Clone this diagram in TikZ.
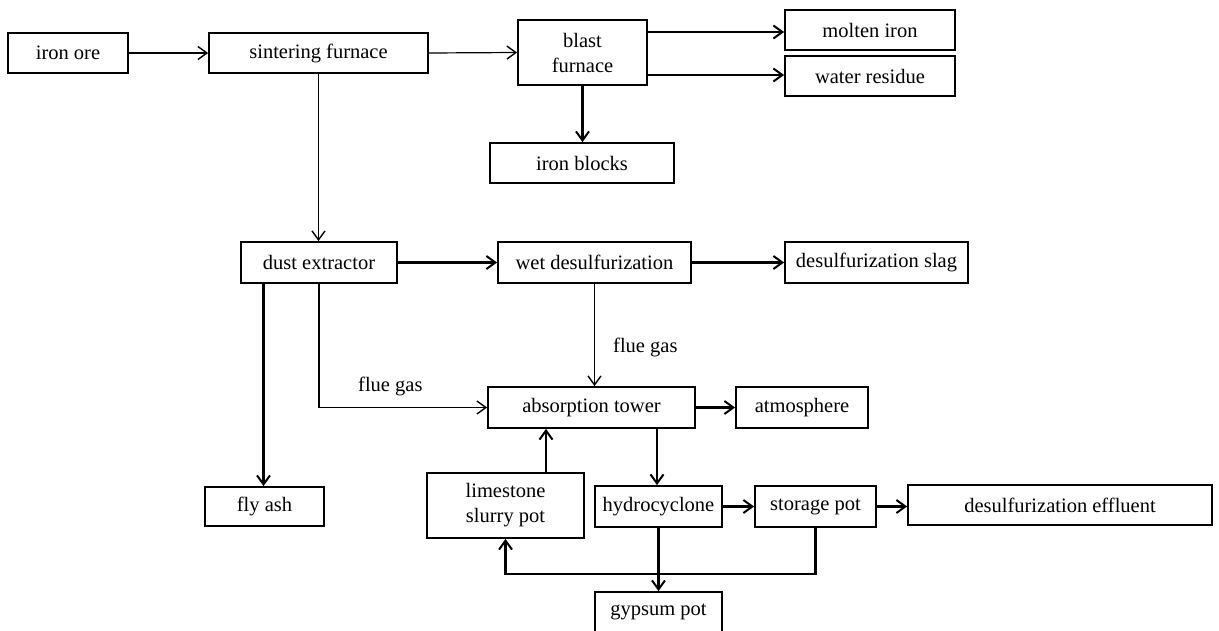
\documentclass[tikz,border=0pt]{standalone}
\usepackage{fontspec}
\setmainfont{Liberation Serif}
\usetikzlibrary{arrows.meta}
\begin{document}
\begin{tikzpicture}[x=1pt,y=-1pt,
  box/.style={draw, line width=1.8pt, inner sep=0pt, align=center,
    font=\fontsize{20.5}{25}\selectfont},
  thinarr/.style={line width=1.2pt, -{Straight Barb[length=9pt,width=13pt,line width=1.4pt]}},
  thickarr/.style={line width=2.4pt, -{Straight Barb[length=9pt,width=13pt,line width=2pt]}},
  thinline/.style={line width=1.2pt},
  thickline/.style={line width=2.4pt},
  lbl/.style={font=\fontsize{20.5}{25}\selectfont, inner sep=0pt}
]
\useasboundingbox (0,0) rectangle (1219,630);
% nodes
\node[box, minimum width=120pt, minimum height=40pt] (ore) at (68,53) {iron ore};
\node[box, minimum width=219pt, minimum height=40pt] (sinter) at (318.5,53) {sintering furnace};
\node[box, minimum width=129pt, minimum height=65pt] (blast) at (582.5,52.5) {blast\\furnace};
\node[box, minimum width=170pt, minimum height=40pt] (molten) at (870,30) {molten iron};
\node[box, minimum width=170pt, minimum height=40pt] (water) at (870,76) {water residue};
\node[box, minimum width=184pt, minimum height=40pt] (blocks) at (582,163) {iron blocks};
\node[box, minimum width=156pt, minimum height=41pt] (dust) at (319,262.5) {dust extractor};
\node[box, minimum width=193pt, minimum height=41pt] (wet) at (594.5,262.5) {wet desulfurization};
\node[box, minimum width=183pt, minimum height=41pt] (slag) at (876.5,262.5) {desulfurization slag};
\node[box, minimum width=207pt, minimum height=41pt] (absorb) at (591.5,407.5) {absorption tower};
\node[box, minimum width=132pt, minimum height=41pt] (atm) at (802,407.5) {atmosphere};
\node[box, minimum width=119pt, minimum height=39pt] (flyash) at (264.5,506.5) {fly ash};
\node[box, minimum width=157pt, minimum height=65pt] (lime) at (505.5,505.5) {limestone\\slurry pot};
\node[box, minimum width=127pt, minimum height=41pt] (hydro) at (658.5,506.5) {hydrocyclone};
\node[box, minimum width=121pt, minimum height=41pt] (storage) at (815.5,506.5) {storage pot};
\node[box, minimum width=304pt, minimum height=40pt] (effluent) at (1060,505) {desulfurization effluent};
\node[box, minimum width=127pt, minimum height=40pt] (gypsum) at (658.5,612) {gypsum pot};
% connectors
\draw[thinarr] (ore.east) -- (sinter.west);
\draw[thinarr] (sinter.east) -- (blast.west);
\coordinate (b1) at ([yshift=20.5pt]blast.east);
\coordinate (b2) at ([yshift=-22.5pt]blast.east);
\draw[thickarr] (b1) -- (molten.west |- b1);
\draw[thickarr] (b2) -- (water.west |- b2);
\draw[thickarr] (blast.south) -- (blast.south |- blocks.north);
\draw[thinarr] (sinter.south) -- (sinter.south |- dust.north);
\draw[thickarr] (dust.east) -- (wet.west);
\draw[thickarr] (wet.east) -- (slag.west);
\draw[thinarr] (wet.south) -- (wet.south |- absorb.north);
\node[lbl, anchor=west] (fg1) at (613,347) {flue gas};
\draw[thinarr] (dust.south) |- (absorb.west);
\node[lbl, anchor=west] (fg2) at (358,386) {flue gas};
\coordinate (d1) at ([xshift=-55.5pt]dust.south);
\draw[thickarr] (d1) -- (d1 |- flyash.north);
\draw[thickarr] (absorb.east) -- (atm.west);
\coordinate (a1) at ([xshift=-1.5pt]hydro.north);
\draw[thickarr] (a1 |- absorb.south) -- (a1);
\coordinate (l1) at ([xshift=40.5pt]lime.north);
\draw[thickarr] (l1) -- (l1 |- absorb.south);
\draw[thickarr] (hydro.east) -- (storage.west |- hydro.east);
\draw[thickarr] (storage.east) -- (effluent.west |- storage.east);
\draw[thickarr] (hydro.south) -- (gypsum.north);
\draw[thickarr] (storage.south) -- ++(0,46) -| (lime.south);
\end{tikzpicture}
\end{document}
